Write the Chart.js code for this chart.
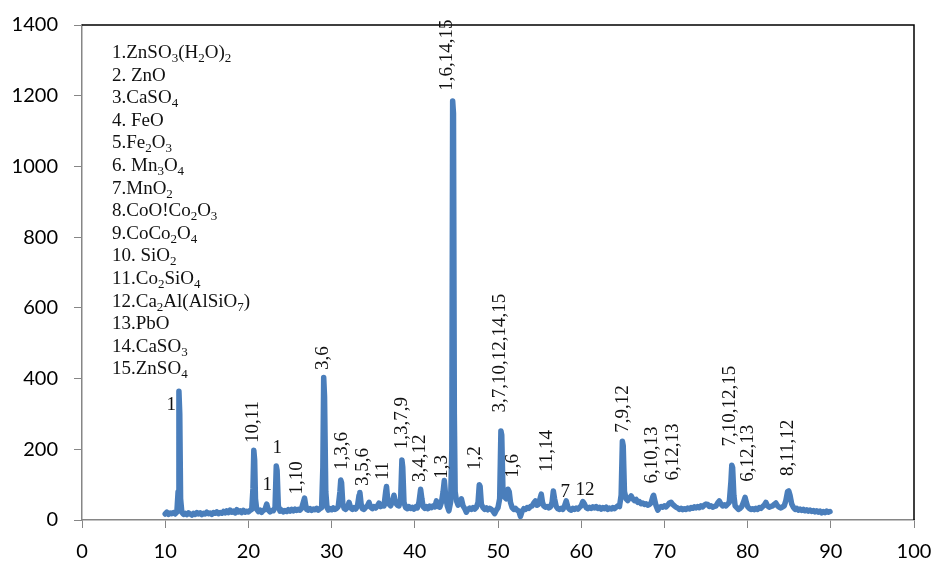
<!DOCTYPE html>
<html>
<head>
<meta charset="utf-8">
<script src="https://cdn.jsdelivr.net/npm/chart.js@4.4.1/dist/chart.umd.min.js"></script>
<style>
  html, body { margin: 0; padding: 0; background: #fff; }
  #wrap { width: 934px; height: 563px; }
</style>
</head>
<body>
<div id="wrap"><canvas id="chart" width="934" height="563"></canvas></div>
<script>
// XRD pattern, [2theta, intensity]
const xrdPoints = [
  [10.0,17],[10.2,22],[10.4,16],[10.6,20],[10.8,18],[11.0,21],[11.2,17],[11.4,22],
  [11.55,80],[11.65,364],[11.75,300],[11.85,60],[12.0,22],
  [12.2,16],[12.4,19],[12.6,15],[12.8,20],[13.0,17],[13.2,14],[13.4,19],[13.6,16],[13.8,21],
  [14.0,17],[14.2,20],[14.4,15],[14.6,19],[14.8,17],[15.0,22],[15.2,18],[15.4,20],[15.6,16],
  [15.8,21],[16.0,19],[16.2,23],[16.4,18],[16.6,21],[16.8,19],[17.0,24],[17.2,20],[17.4,26],
  [17.6,21],[17.8,28],[18.0,22],[18.2,25],[18.4,20],[18.6,29],[18.8,23],[19.0,26],[19.2,21],
  [19.4,27],[19.6,22],[19.8,25],[20.0,23],[20.2,27],[20.4,30],
  [20.55,90],[20.65,197],[20.75,170],[20.85,60],[21.0,30],
  [21.2,24],[21.4,28],[21.6,22],[21.8,27],[22.0,30],[22.2,45],[22.4,28],[22.6,23],[22.8,27],
  [23.0,26],[23.2,35],[23.35,153],[23.45,140],[23.6,40],[23.8,25],
  [24.0,28],[24.2,23],[24.4,27],[24.6,24],[24.8,29],[25.0,25],[25.2,30],[25.4,26],[25.6,31],
  [25.8,27],[26.0,30],[26.2,28],[26.4,33],[26.6,50],[26.75,62],[26.9,40],[27.0,30],[27.2,28],
  [27.4,32],[27.6,27],[27.8,31],[28.0,29],[28.2,33],[28.4,28],[28.6,32],[28.8,35],
  [28.95,150],[29.05,403],[29.15,350],[29.3,80],[29.45,35],
  [29.6,28],[29.8,32],[30.0,29],[30.2,34],[30.4,30],[30.6,33],[30.8,38],
  [31.0,80],[31.1,113],[31.2,105],[31.35,45],[31.5,33],[31.7,30],[31.9,36],[32.1,50],[32.3,34],
  [32.5,30],[32.7,35],[32.9,31],[33.1,38],[33.3,70],[33.4,78],[33.55,45],[33.7,32],[33.9,30],
  [34.1,36],[34.3,40],[34.5,50],[34.7,36],[34.9,32],[35.1,38],[35.3,34],[35.5,40],[35.7,48],
  [35.9,38],[36.1,42],[36.3,40],[36.5,80],[36.6,95],[36.75,55],[36.9,45],[37.1,40],[37.3,52],
  [37.5,70],[37.7,48],[37.9,42],[38.1,40],[38.3,60],[38.45,170],[38.55,150],[38.7,50],[38.9,35],
  [39.1,32],[39.3,38],[39.5,33],[39.7,36],[39.9,31],[40.1,37],[40.3,34],[40.5,50],[40.7,87],
  [40.85,60],[41.0,38],[41.2,33],[41.4,38],[41.6,32],[41.8,39],[42.0,35],[42.2,40],[42.4,37],
  [42.6,54],[42.8,38],[43.0,36],[43.2,50],[43.4,80],[43.55,112],[43.7,70],[43.9,40],[44.1,26],
  [44.3,50],[44.45,200],[44.55,1185],[44.65,1150],[44.75,300],[44.85,80],[45.0,55],[45.2,42],
  [45.4,48],[45.6,60],[45.8,40],[46.0,32],[46.2,22],[46.4,30],[46.6,34],[46.8,30],[47.0,35],
  [47.2,31],[47.4,36],[47.6,50],[47.75,100],[47.85,95],[48.0,45],[48.2,35],[48.4,30],[48.6,34],
  [48.8,29],[49.0,33],[49.2,30],[49.4,25],[49.6,18],[49.8,28],[50.0,35],[50.2,60],[50.35,252],
  [50.45,240],[50.6,80],[50.8,65],[51.0,60],[51.2,87],[51.35,80],[51.5,50],[51.7,35],[51.9,30],
  [52.1,33],[52.3,28],[52.5,25],[52.7,10],[52.9,25],[53.1,32],[53.3,30],[53.5,35],[53.7,33],
  [53.9,38],[54.1,40],[54.3,48],[54.5,54],[54.7,42],[54.9,45],[55.1,65],[55.2,73],[55.35,50],
  [55.5,40],[55.7,36],[55.9,38],[56.1,34],[56.3,37],[56.5,50],[56.65,82],[56.8,60],[57.0,38],
  [57.2,32],[57.4,30],[57.6,33],[57.8,30],[58.0,40],[58.2,54],[58.4,36],[58.6,30],[58.8,28],
  [59.0,33],[59.2,30],[59.4,34],[59.6,31],[59.8,36],[60.0,40],[60.2,52],[60.4,45],[60.6,35],
  [60.8,32],[61.0,36],[61.2,33],[61.4,37],[61.6,34],[61.8,38],[62.0,33],[62.2,36],[62.4,31],
  [62.6,35],[62.8,32],[63.0,36],[63.2,30],[63.4,34],[63.6,31],[63.8,35],[64.0,32],[64.2,36],
  [64.4,40],[64.6,38],[64.8,70],[64.95,223],[65.05,210],[65.2,80],[65.4,60],[65.6,55],[65.8,62],
  [66.0,68],[66.2,60],[66.4,55],[66.6,58],[66.8,50],[67.0,52],[67.2,46],[67.4,48],[67.6,44],
  [67.8,46],[68.0,42],[68.2,44],[68.4,48],[68.6,65],[68.7,70],[68.85,55],[69.0,40],[69.2,28],
  [69.4,35],[69.6,38],[69.8,36],[70.0,40],[70.2,37],[70.4,42],[70.6,48],[70.8,50],[71.0,44],
  [71.2,40],[71.4,36],[71.6,34],[71.8,30],[72.0,33],[72.2,29],[72.4,32],[72.6,30],[72.8,34],
  [73.0,31],[73.2,35],[73.4,33],[73.6,37],[73.8,34],[74.0,38],[74.2,35],[74.4,40],[74.6,37],
  [74.8,42],[75.0,45],[75.2,44],[75.4,38],[75.6,40],[75.8,36],[76.0,38],[76.2,40],[76.4,48],
  [76.6,54],[76.8,45],[77.0,40],[77.2,43],[77.4,40],[77.6,45],[77.8,50],[78.0,110],[78.1,155],
  [78.2,148],[78.35,70],[78.5,40],[78.7,35],[78.9,30],[79.1,33],[79.3,38],[79.5,50],[79.7,64],
  [79.85,50],[80.0,38],[80.2,33],[80.4,30],[80.6,32],[80.8,29],[81.0,33],[81.2,30],[81.4,35],
  [81.6,33],[81.8,38],[82.0,42],[82.2,50],[82.4,40],[82.6,36],[82.8,38],[83.0,40],[83.2,44],
  [83.4,48],[83.6,40],[83.8,36],[84.0,34],[84.2,37],[84.4,40],[84.6,55],[84.8,80],[84.95,82],
  [85.1,70],[85.3,45],[85.5,36],[85.7,30],[85.9,33],[86.1,28],[86.3,31],[86.5,27],[86.7,30],
  [86.9,26],[87.1,29],[87.3,25],[87.5,28],[87.7,24],[87.9,27],[88.1,23],[88.3,26],[88.5,22],
  [88.7,25],[88.9,20],[89.1,24],[89.3,21],[89.5,25],[89.7,22],[89.9,24]
];

// peak annotations: text, 2theta, intensity at label centre, rotated?
const peakText = ["1","10,11","1","1","1,10","3,6","1,3,6","3,5,6","11","1,3,7,9","3,4,12","1,3",
  "1,6,14,15","1,2","3,7,10,12,14,15","1,6","11,14","7","12","7,9,12","6,10,13","6,12,13",
  "7,10,12,15","6,12,13","8,11,12"];
const peakX = [10.73,20.58,23.47,22.26,25.87,28.99,31.27,33.8,36.2,38.48,40.65,43.29,
  43.89,47.25,50.26,51.82,55.9,58.07,60.47,65.04,68.52,71.04,77.89,80.05,84.86];
const peakY = [325,277,204,99,119,458,195,150,139,274,175,150,
  1315,175,472,153,195,79,85,314,184,192,322,189,204];
const peakRot = [0,1,0,0,1,1,1,1,1,1,1,1,1,1,1,1,1,0,0,1,1,1,1,1,1];

// phase list, "_" marks a subscript character
const phases = ["1.ZnSO_3(H_2O)_2","2. ZnO","3.CaSO_4","4. FeO","5.Fe_2O_3","6. Mn_3O_4",
  "7.MnO_2","8.CoO!Co_2O_3","9.CoCo_2O_4","10. SiO_2","11.Co_2SiO_4","12.Ca_2Al(AlSiO_7)",
  "13.PbO","14.CaSO_3","15.ZnSO_4"];

const serif = "'Liberation Serif', 'Times New Roman', serif";

const decor = {
  id: 'decor',
  afterDatasetsDraw(chart) {
    const ctx = chart.ctx;
    const a = chart.chartArea;
    const xs = chart.scales.x, ys = chart.scales.y;
    ctx.save();
    // top and right frame
    ctx.strokeStyle = '#000';
    ctx.lineWidth = 1.5;
    ctx.beginPath();
    ctx.moveTo(a.left, a.top);
    ctx.lineTo(a.right, a.top);
    ctx.lineTo(a.right, a.bottom);
    ctx.stroke();

    // peak labels
    ctx.fillStyle = '#111';
    ctx.font = '19px ' + serif;
    ctx.textAlign = 'center';
    ctx.textBaseline = 'middle';
    peakText.forEach((t, i) => {
      const px = xs.getPixelForValue(peakX[i]);
      const py = ys.getPixelForValue(peakY[i]);
      ctx.save();
      ctx.translate(px, py);
      if (peakRot[i]) ctx.rotate(-Math.PI / 2);
      ctx.fillText(t, 0, 0);
      ctx.restore();
    });

    // phase list
    ctx.textAlign = 'left';
    ctx.textBaseline = 'alphabetic';
    phases.forEach((p, i) => {
      let x = 112;
      const y = 58 + i * 22.6;
      for (let k = 0; k < p.length; k++) {
        let ch = p[k];
        if (ch === '_') {
          k++;
          ch = p[k];
          ctx.font = '13px ' + serif;
          ctx.fillText(ch, x, y + 4);
        } else {
          ctx.font = '19px ' + serif;
          ctx.fillText(ch, x, y);
        }
        x += ctx.measureText(ch).width;
      }
    });
    ctx.restore();
  }
};

new Chart(document.getElementById('chart'), {
  type: 'line',
  data: {
    datasets: [{
      data: xrdPoints.map(p => ({ x: p[0], y: p[1] })),
      borderColor: '#4A7EBB',
      borderWidth: 5.5,
      borderJoinStyle: 'round',
      borderCapStyle: 'round',
      pointRadius: 0,
      tension: 0,
      fill: false
    }]
  },
  options: {
    responsive: false,
    animation: false,
    layout: { padding: { top: 25, right: 20, left: 0, bottom: 0 } },
    plugins: { legend: { display: false }, tooltip: { enabled: false } },
    scales: {
      x: {
        type: 'linear',
        min: 0, max: 100,
        ticks: { stepSize: 10, color: '#000', padding: 12, font: { family: 'Lato', size: 20 } },
        grid: { drawOnChartArea: false, drawTicks: true, tickLength: 8, color: '#868686' },
        border: { color: '#868686', width: 1.5 },
        afterFit(s) { s.height = 43; s.paddingLeft = 0; s.paddingRight = 0; }
      },
      y: {
        min: 0, max: 1400,
        ticks: { stepSize: 200, color: '#000', padding: 16, font: { family: 'Lato', size: 20 },
          callback: v => String(v) },
        grid: { drawOnChartArea: false, drawTicks: true, tickLength: 8, color: '#868686' },
        border: { color: '#868686', width: 1.5 },
        afterFit(s) { s.width = 82; s.paddingTop = 0; s.paddingBottom = 0; }
      }
    }
  },
  plugins: [decor]
});
</script>
</body>
</html>
